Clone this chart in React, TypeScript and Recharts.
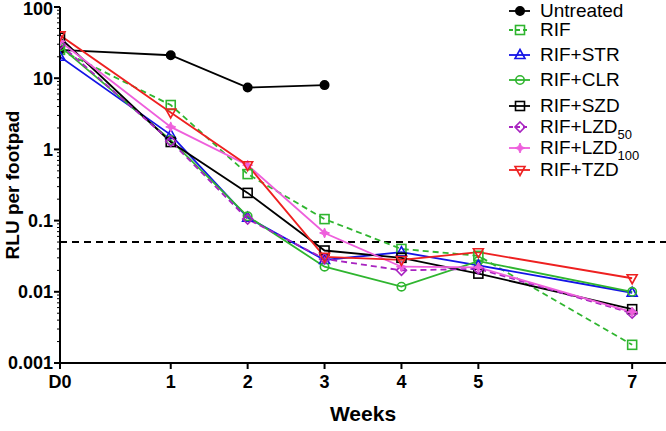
import React from 'react';
import { LineChart, Line, XAxis, YAxis, ReferenceLine } from 'recharts';

// x position of the D0 baseline on the week axis (sits left of week 1)
const D0_POS = -0.44;
const timepoints = [D0_POS, 1, 2, 3, 4, 5, 7];
const xTickLabels = ['D0', '1', '2', '3', '4', '5', '7'];

// RLU per footpad, one value per timepoint
const untreated = [25, 21, 7.4, 8.0, null, null, null];
const rif = [25, 4.2, 0.45, 0.105, 0.04, 0.032, 0.0018];
const rifStr = [20, 1.6, 0.11, 0.028, 0.036, 0.0235, 0.0097];
const rifClr = [28, 1.35, 0.115, 0.0225, 0.0118, 0.027, 0.01];
const rifSzd = [37, 1.27, 0.245, 0.038, 0.03, 0.018, 0.0057];
const rifLzd50 = [30, 1.3, 0.105, 0.029, 0.02, 0.021, 0.005];
const rifLzd100 = [33, 2.07, 0.6, 0.067, 0.0225, 0.022, 0.0052];
const rifTzd = [40, 3.3, 0.6, 0.031, 0.028, 0.036, 0.0155];

const LIMIT = 0.05;
const majorTicks = [0.001, 0.01, 0.1, 1, 10, 100];

type Shape = 'circle' | 'square' | 'triangle' | 'triangleDown' | 'diamond' | 'star';

const seriesList = [
  { key: 'untreated', name: 'Untreated', sub: '', values: untreated },
  { key: 'rif', name: 'RIF', sub: '', values: rif },
  { key: 'rifStr', name: 'RIF+STR', sub: '', values: rifStr },
  { key: 'rifClr', name: 'RIF+CLR', sub: '', values: rifClr },
  { key: 'rifSzd', name: 'RIF+SZD', sub: '', values: rifSzd },
  { key: 'rifLzd50', name: 'RIF+LZD', sub: '50', values: rifLzd50 },
  { key: 'rifLzd100', name: 'RIF+LZD', sub: '100', values: rifLzd100 },
  { key: 'rifTzd', name: 'RIF+TZD', sub: '', values: rifTzd },
];

const styles: Record<string, { color: string; dash?: string; shape: Shape; filled: boolean }> = {
  untreated: { color: '#000000', shape: 'circle', filled: true },
  rif: { color: '#2fb52f', dash: '6 4', shape: 'square', filled: false },
  rifStr: { color: '#1414e6', shape: 'triangle', filled: false },
  rifClr: { color: '#2fb52f', shape: 'circle', filled: false },
  rifSzd: { color: '#000000', shape: 'square', filled: false },
  rifLzd50: { color: '#a824c0', dash: '6 4', shape: 'diamond', filled: false },
  rifLzd100: { color: '#ee5fdc', shape: 'star', filled: true },
  rifTzd: { color: '#ee2020', shape: 'triangleDown', filled: false },
};

const chartData = timepoints.map((t, i) => {
  const row: Record<string, number | null> = { t };
  seriesList.forEach((s) => {
    row[s.key] = s.values[i];
  });
  return row;
});

const yTicks: number[] = [];
majorTicks.forEach((m, i) => {
  yTicks.push(m);
  if (i < majorTicks.length - 1) {
    for (let k = 2; k <= 9; k++) yTicks.push(+(m * k).toPrecision(3));
  }
});

const isDecade = (v: number) => Math.abs(Math.log10(v) - Math.round(Math.log10(v))) < 1e-6;

const FONT = '"Liberation Sans", Arial, sans-serif';

function Marker({ shape, cx, cy, color, filled }: { shape: Shape; cx: number; cy: number; color: string; filled: boolean }) {
  const fill = filled ? color : 'none';
  const sw = 1.6;
  switch (shape) {
    case 'circle':
      return <circle cx={cx} cy={cy} r={4.2} fill={fill} stroke={color} strokeWidth={sw} />;
    case 'square':
      return <rect x={cx - 4.5} y={cy - 4.5} width={9} height={9} fill={fill} stroke={color} strokeWidth={sw} />;
    case 'triangle':
      return <polygon points={`${cx},${cy - 5.5} ${cx + 5},${cy + 3.5} ${cx - 5},${cy + 3.5}`} fill={fill} stroke={color} strokeWidth={sw} />;
    case 'triangleDown':
      return <polygon points={`${cx},${cy + 5.5} ${cx + 5},${cy - 3.5} ${cx - 5},${cy - 3.5}`} fill={fill} stroke={color} strokeWidth={sw} />;
    case 'diamond':
      return <polygon points={`${cx},${cy - 5} ${cx + 5},${cy} ${cx},${cy + 5} ${cx - 5},${cy}`} fill={fill} stroke={color} strokeWidth={sw} />;
    case 'star':
      return (
        <polygon
          points={`${cx},${cy - 5} ${cx + 1.5},${cy - 1.5} ${cx + 5},${cy} ${cx + 1.5},${cy + 1.5} ${cx},${cy + 5} ${cx - 1.5},${cy + 1.5} ${cx - 5},${cy} ${cx - 1.5},${cy - 1.5}`}
          fill={color}
          stroke={color}
          strokeWidth={1}
        />
      );
  }
  return null;
}

const YTick = (props: any) => {
  const { x, y, payload } = props;
  const major = isDecade(payload.value);
  return (
    <g>
      <line x1={x} x2={x - (major ? 6 : 3)} y1={y} y2={y} stroke="#000" strokeWidth={major ? 2 : 1} />
      {major && (
        <text x={x - 7} y={Math.max(y, 9)} dy="0.36em" textAnchor="end" fontSize={18} fontWeight="bold" fontFamily={FONT} fill="#000">
          {String(payload.value)}
        </text>
      )}
    </g>
  );
};

const XTick = (props: any) => {
  const { x, y, payload } = props;
  const idx = timepoints.indexOf(payload.value);
  return (
    <g>
      <line x1={x} x2={x} y1={y} y2={y + 6} stroke="#000" strokeWidth={2} />
      <text x={x} y={y + 19} dy="0.36em" textAnchor="middle" fontSize={18} fontWeight="bold" fontFamily={FONT} fill="#000">
        {xTickLabels[idx]}
      </text>
    </g>
  );
};

// legend row centres (px from top), as laid out in the figure
const legendRows = [11, 30, 55, 80, 106, 127, 148, 170];

function LegendBox() {
  return (
    <div style={{ position: 'absolute', left: 0, top: 0, width: 666, height: 431, pointerEvents: 'none' }}>
      {seriesList.map((s, i) => {
        const st = styles[s.key];
        const cy = legendRows[i];
        return (
          <div key={s.key} style={{ position: 'absolute', top: cy - 10, left: 505, height: 20, display: 'flex', alignItems: 'center' }}>
            <svg width={32} height={20} style={{ display: 'block' }}>
              <line x1={4} x2={25} y1={10} y2={10} stroke={st.color} strokeWidth={1.8} strokeDasharray={st.dash ? '4 3' : undefined} />
              <Marker shape={st.shape} cx={15} cy={10} color={st.color} filled={st.filled} />
            </svg>
            <span style={{ fontFamily: FONT, fontSize: 19, color: '#000', marginLeft: 3, lineHeight: '20px', whiteSpace: 'nowrap' }}>
              {s.name}
              {s.sub && <span style={{ fontSize: 13, position: 'relative', top: 6, lineHeight: '13px' }}>{s.sub}</span>}
            </span>
          </div>
        );
      })}
    </div>
  );
}

export default function App() {
  return (
    <div style={{ position: 'absolute', left: 0, top: 0, width: 666, height: 431, background: '#fff' }}>
      <LineChart width={666} height={431} data={chartData} margin={{ top: 7, right: 0, bottom: 0, left: 0 }}>
        <XAxis
          dataKey="t"
          type="number"
          domain={[D0_POS, 7.44]}
          ticks={timepoints}
          interval={0}
          height={68}
          axisLine={{ stroke: '#000', strokeWidth: 2 }}
          tickLine={false}
          tickSize={0}
          tickMargin={0}
          tick={<XTick />}
          allowDataOverflow
          label={{ value: 'Weeks', position: 'insideBottom', offset: 10, fontSize: 21, fontWeight: 'bold', fill: '#000', fontFamily: FONT }}
        />
        <YAxis
          type="number"
          scale="log"
          domain={[0.001, 100]}
          ticks={yTicks}
          interval={0}
          width={60}
          allowDataOverflow
          axisLine={{ stroke: '#000', strokeWidth: 2 }}
          tickLine={false}
          tickSize={0}
          tickMargin={0}
          tick={<YTick />}
          label={{
            content: () => (
              <text x={12} y={185} transform="rotate(-90 12 185)" textAnchor="middle" dominantBaseline="central" fontSize={19} fontWeight="bold" fontFamily={FONT} fill="#000">
                RLU per footpad
              </text>
            ),
          }}
        />
        <ReferenceLine y={LIMIT} stroke="#000" strokeWidth={2} strokeDasharray="7 5" />
        {seriesList.map((s) => {
          const st = styles[s.key];
          return (
            <Line
              key={s.key}
              dataKey={s.key}
              name={s.name}
              stroke={st.color}
              strokeWidth={1.8}
              strokeDasharray={st.dash}
              isAnimationActive={false}
              activeDot={false}
              dot={(p: any) =>
                p.cx == null || p.cy == null || p.value == null ? (
                  <g key={`${s.key}-${p.index}`} />
                ) : (
                  <Marker key={`${s.key}-${p.index}`} shape={st.shape} cx={p.cx} cy={p.cy} color={st.color} filled={st.filled} />
                )
              }
            />
          );
        })}
      </LineChart>
      <LegendBox />
    </div>
  );
}
